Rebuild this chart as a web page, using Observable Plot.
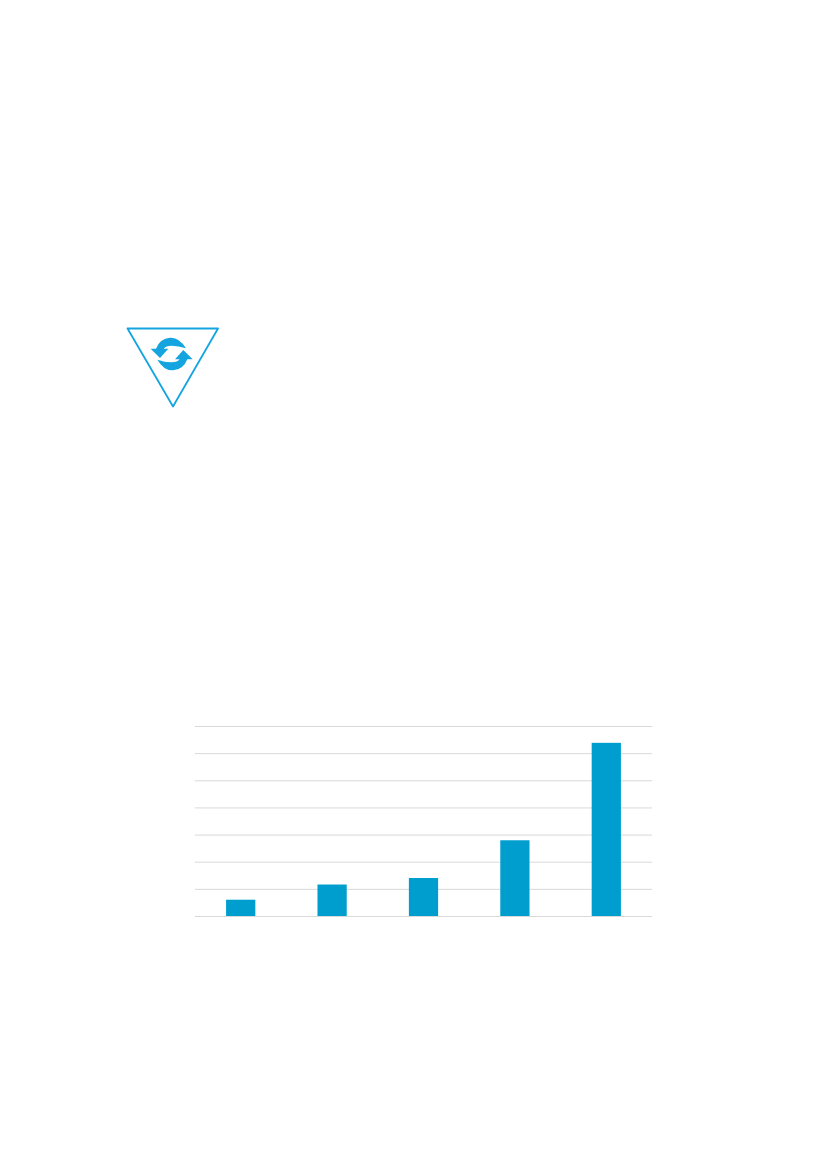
<!DOCTYPE html>
<html>
<head>
<meta charset="utf-8">
<script src="https://cdn.jsdelivr.net/npm/d3@7"></script>
<script src="https://cdn.jsdelivr.net/npm/@observablehq/plot@0.6"></script>
<style>
html,body{margin:0;padding:0;background:#fff}
#page{position:relative;width:827px;height:1169px;overflow:hidden}
#page svg{position:absolute;background:transparent;max-width:none}
</style>
</head>
<body>
<div id="page"></div>
<script>
const categories = ["A", "B", "C", "D", "E"];
const values = [6, 11.6, 14, 27.9, 63.8];
const gridTicks = [0, 10, 20, 30, 40, 50, 60, 70];
const triangleX = [0, 90.5, 45.5, 0];
const triangleY = [0, 0, 78, 0];

const bars = categories.map((c, i) => ({category: c, value: values[i]}));
const page = document.getElementById("page");

const chart = Plot.plot({
  width: 457, height: 210,
  marginLeft: 0, marginRight: 0, marginTop: 10, marginBottom: 10,
  x: {domain: categories, axis: null, paddingInner: 0.68, paddingOuter: 0.34, round: false},
  y: {domain: [0, 70], axis: null},
  marks: [
    Plot.ruleY(gridTicks, {stroke: "#d9d9d9", strokeWidth: 1}),
    Plot.barY(bars, {x: "category", y: "value", fill: "#009ecf"})
  ]
});
chart.style.left = "195px";
chart.style.top = "716px";
page.appendChild(chart);

// Recycle icon inside the triangle
function recycleGlyph() {
  const g = d3.create("svg:g").attr("transform", "translate(-11,-7) scale(0.3333)");
  const d = "M228,100 Q208,66 180,68 Q150,70 138,101 L122,101 L150,129 L175,101 L161,101 Q167,92 185,92 Q205,92 228,100 Z";
  g.append("path").attr("d", d).attr("fill", "#14a5e1");
  g.append("path").attr("d", d).attr("fill", "#14a5e1").attr("transform", "rotate(180 185 117)");
  return g.node();
}
const icon = Plot.plot({
  width: 103, height: 90,
  marginLeft: 6, marginRight: 6, marginTop: 6, marginBottom: 6,
  x: {domain: [0, 91], axis: null},
  y: {domain: [0, 78], axis: null, reverse: true},
  marks: [
    Plot.line(triangleX.map((x, i) => ({x, y: triangleY[i]})), {
      x: "x", y: "y", stroke: "#14a5e1", strokeWidth: 1.8, strokeLinejoin: "round"
    }),
    recycleGlyph
  ]
});
icon.style.left = "121px";
icon.style.top = "322px";
page.appendChild(icon);
</script>
</body>
</html>
